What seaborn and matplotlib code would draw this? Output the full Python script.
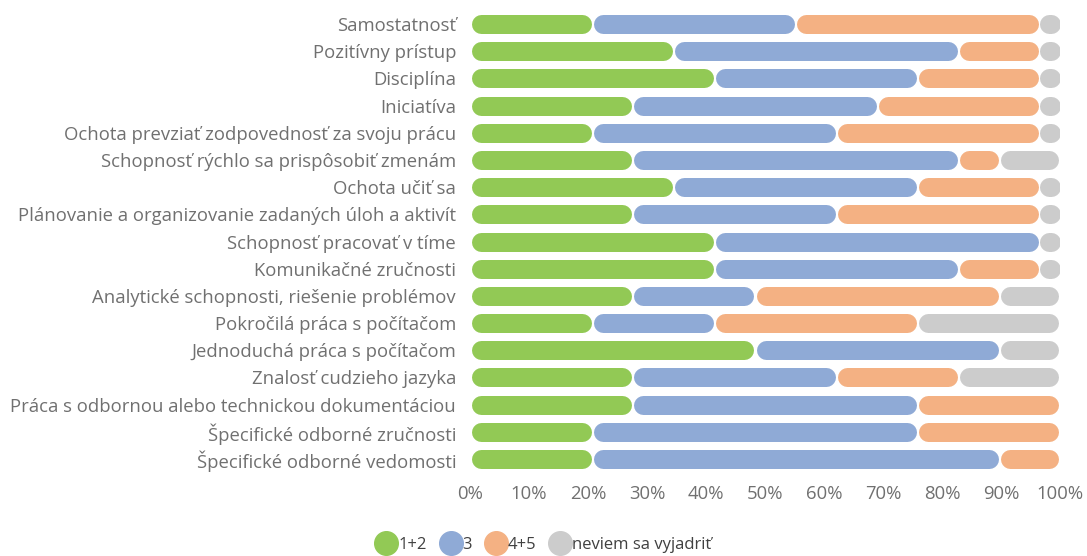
import numpy as np
import matplotlib
matplotlib.use("Agg")
import matplotlib.pyplot as plt
from matplotlib.lines import Line2D
import seaborn as sns

categories = [
    "Samostatnosť",
    "Pozitívny prístup",
    "Disciplína",
    "Iniciatíva",
    "Ochota prevziať zodpovednosť za svoju prácu",
    "Schopnosť rýchlo sa prispôsobiť zmenám",
    "Ochota učiť sa",
    "Plánovanie a organizovanie zadaných úloh a aktivít",
    "Schopnosť pracovať v tíme",
    "Komunikačné zručnosti",
    "Analytické schopnosti, riešenie problémov",
    "Pokročilá práca s počítačom",
    "Jednoduchá práca s počítačom",
    "Znalosť cudzieho jazyka",
    "Práca s odbornou alebo technickou dokumentáciou",
    "Špecifické odborné zručnosti",
    "Špecifické odborné vedomosti",
]

v12 = [20.7, 34.5, 41.4, 27.6, 20.7, 27.6, 34.5, 27.6, 41.4, 41.4, 27.6, 20.7, 48.3, 27.6, 27.6, 20.7, 20.7]
v3 = [34.5, 48.3, 34.5, 41.4, 41.4, 55.2, 41.4, 34.5, 55.2, 41.4, 20.7, 20.7, 41.4, 34.5, 48.3, 55.2, 69.0]
v45 = [41.4, 13.8, 20.7, 27.6, 34.5, 6.9, 20.7, 34.5, 0.0, 13.8, 41.4, 34.5, 0.0, 20.7, 24.1, 24.1, 10.3]
vnev = [3.4, 3.4, 3.4, 3.4, 3.4, 10.3, 3.4, 3.4, 3.4, 3.4, 10.3, 24.1, 10.3, 17.2, 0.0, 0.0, 0.0]

series_names = ["1+2", "3", "4+5", "neviem sa vyjadriť"]
colors = ["#92C955", "#8FAAD6", "#F4B183", "#CCCCCC"]

sns.set_style("white")
plt.rcParams["font.family"] = ["Open Sans", "DejaVu Sans"]

fig = plt.figure(figsize=(10.87, 5.56), dpi=100)
ax = fig.add_axes([470 / 1087, 1 - 472.6 / 556, 590 / 1087, 462.2 / 556])

data = np.array([v12, v3, v45, vnev])
starts = np.vstack([np.zeros(len(categories)), np.cumsum(data, axis=0)[:-1]])

lw_px = 19
r = (lw_px / 2) / 5.9   # cap radius in % units
gap = 0.35

for s in range(4):
    for i in range(len(categories)):
        w = data[s, i]
        if w <= 0:
            continue
        x0 = starts[s, i] + r + gap / 2
        x1 = starts[s, i] + w - r - gap / 2
        if x1 - x0 < 0.4:
            mid = starts[s, i] + w / 2
            x0, x1 = mid - 0.2, mid + 0.2
        ax.plot([x0, x1], [i, i], color=colors[s], lw=lw_px * 72 / 100,
                solid_capstyle="round")

ax.set_xlim(0, 100)
ax.set_ylim(len(categories) - 0.5, -0.5)
ax.set_yticks(range(len(categories)))
ax.set_yticklabels(categories)
ax.set_xticks(range(0, 101, 10))
ax.set_xticklabels([f"{t}%" for t in range(0, 101, 10)])
ax.tick_params(axis="y", length=0, pad=10, labelsize=13.3, labelcolor="#707070")
ax.tick_params(axis="x", length=0, pad=9, labelsize=13.3, labelcolor="#707070")
sns.despine(ax=ax, left=True, bottom=True)

handles = [Line2D([], [], marker="o", linestyle="", markersize=17,
                  markerfacecolor=c, markeredgecolor=c) for c in colors]
fig.legend(handles, series_names, loc="lower center", bbox_to_anchor=(0.5, -0.022),
           ncol=4, frameon=False, handletextpad=0.05, columnspacing=0.8,
           handlelength=1.3, fontsize=12, labelcolor="#404040")

fig.savefig("out.png", dpi=100)
